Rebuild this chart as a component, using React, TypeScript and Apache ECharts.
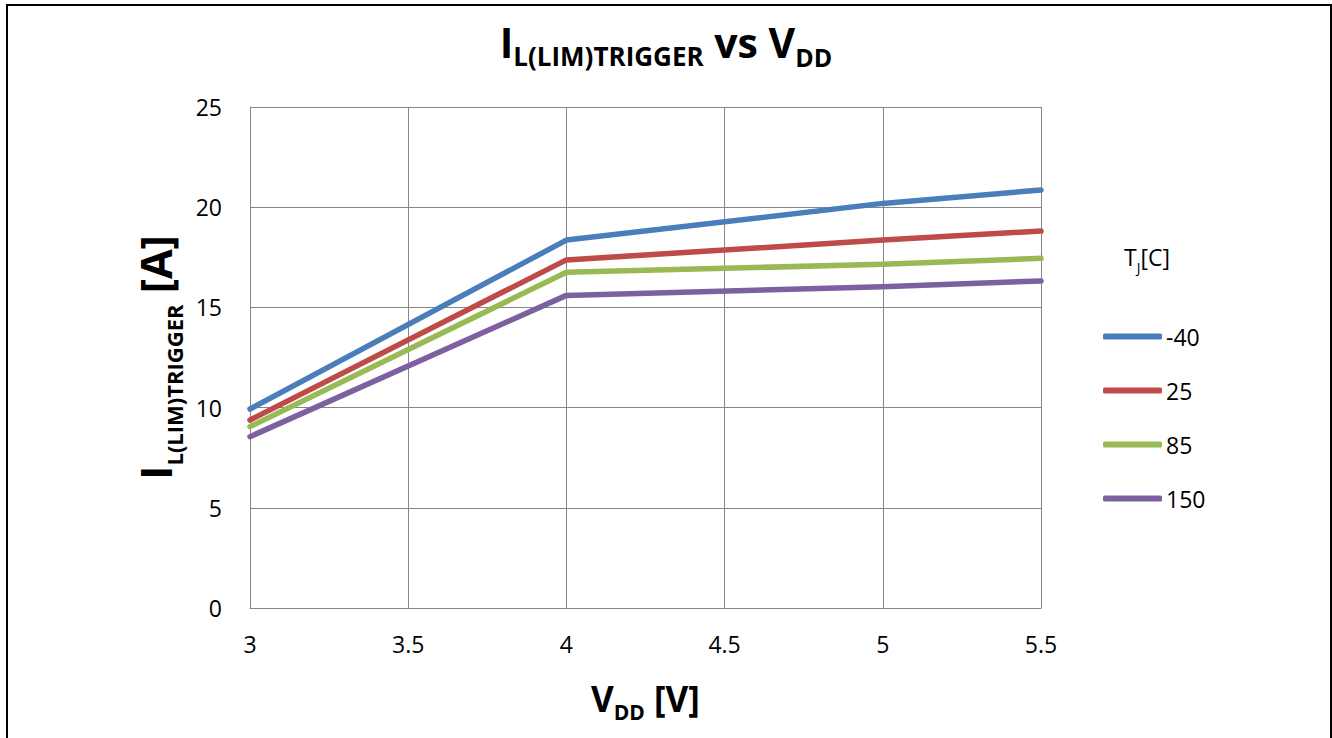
import React, { useEffect, useRef } from "react";
import * as echarts from "echarts";

const xValues = [3, 4, 5, 5.5];
const seriesNames = ["-40", "25", "85", "150"];
const s40 = [9.93, 18.36, 20.19, 20.86];
const s25 = [9.38, 17.37, 18.36, 18.81];
const s85 = [9.05, 16.75, 17.15, 17.45];
const s150 = [8.55, 15.6, 16.03, 16.32];
const colors = ["#4A7EBB", "#BE4B48", "#98B954", "#7D60A0"];
const xTicks = [3, 3.5, 4, 4.5, 5, 5.5];
const yTicks = [0, 5, 10, 15, 20, 25];

const FONT = "'Open Sans', sans-serif";

export default function App() {
  const ref = useRef<HTMLDivElement>(null);
  useEffect(() => {
    document.body.style.margin = "0";
    const chart = echarts.init(ref.current!, null, { renderer: "svg" });
    const data = [s40, s25, s85, s150];
    chart.setOption({
      animation: false,
      backgroundColor: "#ffffff",
      textStyle: { fontFamily: FONT },
      title: [
        {
          text: "{a|I}{b|L(LIM)TRIGGER}{a| vs V}{c|DD}",
          left: "center",
          top: 7,
          textStyle: {
            rich: {
              a: { fontSize: 41, fontWeight: "bold", color: "#000", fontFamily: FONT, lineHeight: 50, verticalAlign: "bottom" },
              b: { fontSize: 26, fontWeight: "bold", color: "#000", fontFamily: FONT, lineHeight: 50, verticalAlign: "bottom", padding: [0, 0, -7, 0] },
              c: { fontSize: 25, fontWeight: "bold", color: "#000", fontFamily: FONT, lineHeight: 50, verticalAlign: "bottom", padding: [0, 0, -7, 0] },
            },
          },
        },
        {
          text: "{a|T}{b|J}{a|[C]}",
          left: 1119,
          top: 233,
          textStyle: {
            fontWeight: "normal",
            rich: {
              a: { fontSize: 23, fontWeight: "normal", color: "#000", fontFamily: FONT, lineHeight: 30, verticalAlign: "bottom" },
              b: { fontSize: 14, fontWeight: "normal", color: "#000", fontFamily: FONT, lineHeight: 30, verticalAlign: "bottom", padding: [0, 0, -6, 0] },
            },
          },
        },
      ],
      graphic: [
        {
          type: "rect",
          shape: { x: 7, y: 5, width: 1324, height: 760 },
          style: { fill: "none", stroke: "#000", lineWidth: 2 },
          silent: true,
        },
      ],
      legend: {
        orient: "vertical",
        left: 1103,
        top: 325,
        padding: 0,
        itemWidth: 59,
        itemHeight: 6,
        itemGap: 31,
        icon: "roundRect",
        textStyle: { fontSize: 23, color: "#000", fontFamily: FONT, padding: [0, 0, 0, -1], lineHeight: 23 },
        data: seriesNames,
      },
      grid: { left: 250, right: 291, top: 107, bottom: 130 },
      xAxis: {
        type: "value",
        min: 3,
        max: 5.5,
        interval: 0.5,
        name: "{a|V}{b|DD}{a| [V]}",
        nameLocation: "middle",
        nameGap: 64,
        nameTextStyle: {
          rich: {
            a: { fontSize: 35, fontWeight: "bold", color: "#000", fontFamily: FONT, lineHeight: 44, verticalAlign: "bottom" },
            b: { fontSize: 21, fontWeight: "bold", color: "#000", fontFamily: FONT, lineHeight: 44, verticalAlign: "bottom", padding: [0, 0, -6, 0] },
          },
        },
        axisLine: { lineStyle: { color: "#868686", width: 1 } },
        axisTick: { show: false },
        splitLine: { show: true, lineStyle: { color: "#868686", width: 1 } },
        axisLabel: {
          fontSize: 23,
          color: "#000",
          margin: 24,
          formatter: (v: number) => (xTicks.includes(v) ? String(v) : ""),
        },
      },
      yAxis: {
        type: "value",
        min: 0,
        max: 25,
        interval: 5,
        name: "{a|I}{b|L(LIM)TRIGGER}{a| [A]}",
        nameLocation: "middle",
        nameGap: 70,
        nameTextStyle: {
          rich: {
            a: { fontSize: 43, fontWeight: "bold", color: "#000", fontFamily: FONT, lineHeight: 50, verticalAlign: "bottom" },
            b: { fontSize: 22, fontWeight: "bold", color: "#000", fontFamily: FONT, lineHeight: 50, verticalAlign: "bottom", padding: [0, 0, -8, 0] },
          },
        },
        axisLine: { show: true, lineStyle: { color: "#868686", width: 1 } },
        axisTick: { show: false },
        splitLine: { show: true, lineStyle: { color: "#868686", width: 1 } },
        axisLabel: {
          fontSize: 23,
          color: "#000",
          margin: 28,
          formatter: (v: number) => (yTicks.includes(v) ? String(v) : ""),
        },
      },
      series: seriesNames.map((name, i) => ({
        name,
        type: "line",
        data: xValues.map((x, j) => [x, data[i][j]]),
        showSymbol: false,
        symbol: "none",
        color: colors[i],
        lineStyle: { width: 5.5, color: colors[i], cap: "round", join: "round" },
        itemStyle: { color: colors[i] },
      })),
    });
    return () => chart.dispose();
  }, []);
  return <div ref={ref} style={{ width: 1332, height: 738 }} />;
}
